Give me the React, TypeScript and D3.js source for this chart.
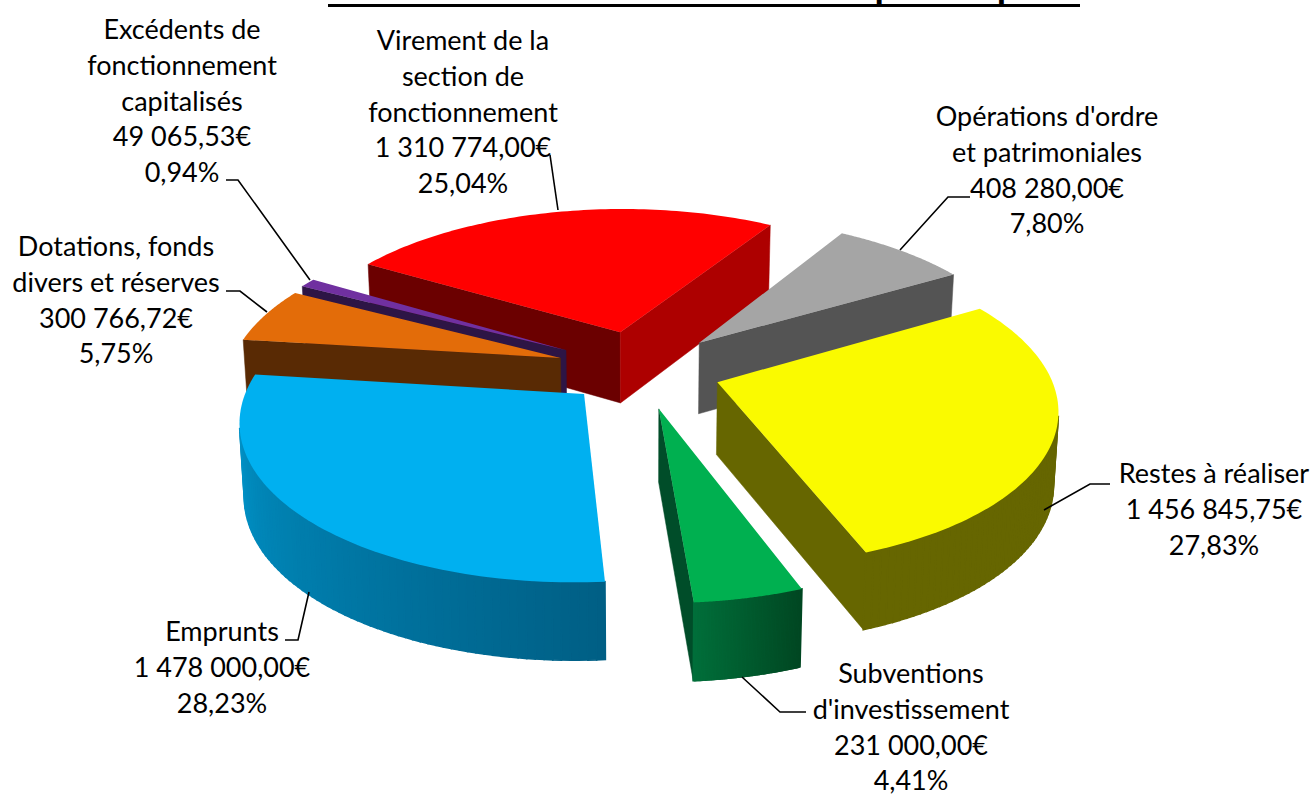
import React from "react";
import * as d3 from "d3";

const labels = [
  ["Opérations d'ordre", "et patrimoniales"],
  ["Restes à réaliser"],
  ["Subventions", "d'investissement"],
  ["Emprunts"],
  ["Dotations, fonds", "divers et réserves"],
  ["Excédents de", "fonctionnement", "capitalisés"],
  ["Virement de la", "section de", "fonctionnement"],
];
const amounts = ["408 280,00€", "1 456 845,75€", "231 000,00€", "1 478 000,00€", "300 766,72€", "49 065,53€", "1 310 774,00€"];
const percents = ["7,80%", "27,83%", "4,41%", "28,23%", "5,75%", "0,94%", "25,04%"];
const values = [408280, 1456845.75, 231000, 1478000, 300766.72, 49065.53, 1310774];
const topColors = ["#A5A5A5", "#FAFA00", "#00B050", "#00B0F0", "#E36C09", "#7030A0", "#FF0000"];
const titleText = "Recettes d'investissement 2015 par chapitre";

const W = 1315, H = 794;
const cx = 640, cy = 369.5, Rx = 331, Ry = 152, P = 0.15, DEPTH = 72;
const explosions = [0.258, 0.245, 0.255, 0.228, 0.255, 0.262, 0.262];
const START = (31.4 * Math.PI) / 180;

const project = (X: number, Y: number, bottom = false): [number, number] => {
  const w = 1 - P * Y;
  const sx = cx + (Rx * X) / w;
  const sy = cy + (Ry * Y) / w;
  if (!bottom) return [sx, sy];
  return [sx + (cx - sx) * 0.012, sy + DEPTH * (1 + 0.07 * Y)];
};
const poly = (pts: [number, number][]) => "M" + pts.map((p) => p[0].toFixed(2) + "," + p[1].toFixed(2)).join("L") + "Z";
const visible = (a: [number, number], b: [number, number], c: [number, number]) =>
  (b[0] - a[0]) * (c[1] - b[1]) - (b[1] - a[1]) * (c[0] - b[0]) < 0;

const wallLeft = ["#545454", "#666600", "#004D29", "#005F85", "#592A04", "#2D1545", "#6B0000"];
const wallRight = ["#545454", "#666600", "#004D29", "#005F85", "#592A04", "#2D1545", "#AD0000"];
const arcFrom = ["#545454", "#666600", "#004722", "#005F85", "#592A04", "#2D1545", "#6B0000"];
const arcTo = ["#545454", "#666600", "#006E3A", "#009BD3", "#592A04", "#2D1545", "#AD0000"];

const drawOrder = [6, 0, 5, 4, 3, 1, 2];

const arcs = d3.pie<number>().sort(null).startAngle(START).endAngle(START + 2 * Math.PI)(values);

function Slice({ i }: { i: number }) {
  const a = arcs[i];
  const mid = (a.startAngle + a.endAngle) / 2;
  const ox = explosions[i] * Math.sin(mid), oy = -explosions[i] * Math.cos(mid);
  const thetas = d3.range(0, 81).map((k) => a.startAngle + ((a.endAngle - a.startAngle) * k) / 80);
  const rim = (t: number) => [ox + Math.sin(t), oy - Math.cos(t)] as [number, number];
  const topPts: [number, number][] = [project(ox, oy), ...thetas.map((t) => project(...rim(t)))];
  const faces: React.ReactNode[] = [];
  const wall = (A: [number, number], B: [number, number], fill: string, key: string, sw = 0.5) => {
    const a1 = project(A[0], A[1]), b1 = project(B[0], B[1]);
    const b2 = project(B[0], B[1], true), a2 = project(A[0], A[1], true);
    if (visible(a1, b1, b2)) {
      faces.push(<path key={key} d={poly([a1, b1, b2, a2])} fill={fill} stroke={fill} strokeWidth={sw} />);
    }
  };
  const centre: [number, number] = [ox, oy];
  wall(centre, rim(a.startAngle), wallLeft[i], "s");
  wall(rim(a.endAngle), centre, wallRight[i], "e");
  const colour = d3.interpolateRgb(arcFrom[i], arcTo[i]);
  thetas.slice(0, -1).forEach((t, k) => {
    wall(rim(t), rim(thetas[k + 1]), colour(k / 79), "a" + k, 1.6);
  });
  return (
    <g>
      {faces}
      <path d={poly(topPts)} fill={topColors[i]} />
    </g>
  );
}

const labelAnchors: [number, number][] = [
  [1047, 117], [1214, 474], [911, 674], [222, 632], [116, 247], [182, 30], [463, 41],
];
const leaders: [number, number][][] = [
  [[970, 197], [948, 197], [900, 250]],
  [[1110, 484], [1090, 484], [1044, 510]],
  [[806, 712], [780, 712], [742, 677]],
  [[285, 640], [298, 640], [309, 592]],
  [[226, 291], [240, 291], [267, 312]],
  [[226, 180], [238, 180], [310, 280]],
  [[550, 155], [558, 210]],
];
const leaderPath = d3.line();
const LINE = 35.8;

export default function App() {
  return (
    <svg width={W} height={H} style={{ position: "absolute", left: 0, top: 0, background: "#fff" }}>
      <text x={704} y={-0.5} textAnchor="middle" fontFamily="Lato" fontWeight={700} fontSize={38} textLength={744} lengthAdjust="spacing">{titleText}</text>
      <rect x={328} y={4} width={752} height={3} fill="#000" />
      {drawOrder.map((i) => <Slice key={i} i={i} />)}
      {leaders.map((l, i) => (
        <path key={i} d={leaderPath(l) || ""} fill="none" stroke="#000" strokeWidth={1.6} />
      ))}
      {labels.map((lines, i) => {
        const all = [...lines, amounts[i], percents[i]];
        return (
          <text key={i} fontFamily="Lato" fontSize={27} fill="#000" textAnchor="middle">
            {all.map((t, k) => (
              <tspan key={k} x={labelAnchors[i][0]} y={labelAnchors[i][1] + 9 + k * LINE}>{t}</tspan>
            ))}
          </text>
        );
      })}
    </svg>
  );
}
